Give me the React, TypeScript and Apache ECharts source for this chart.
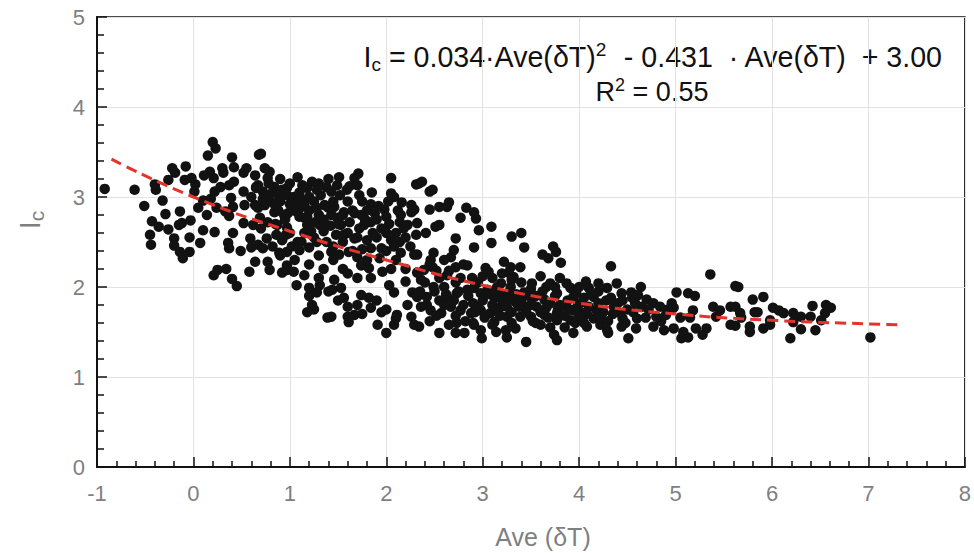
import React, { useEffect, useRef } from "react";
import * as echarts from "echarts";

// ---- data ----
const xTickLabels = ["-1", "0", "1", "2", "3", "4", "5", "6", "7", "8"];
const yTickLabels = ["0", "1", "2", "3", "4", "5"];

const leftGroup: [number, number][] = [
  [-0.92, 3.09], [-0.61, 3.08], [-0.51, 2.9], [-0.43, 2.73], [-0.45, 2.58], [-0.44, 2.47], [-0.36, 2.67],
  [-0.4, 3.14], [-0.39, 3.08], [-0.32, 2.96], [-0.29, 2.81], [-0.26, 3.19], [-0.22, 3.32], [-0.19, 3.27],
  [-0.08, 3.34], [-0.09, 3.19], [-0.02, 3.21], [0.02, 3.14], [0.01, 3.06], [-0.14, 2.84], [-0.26, 2.64],
  [-0.2, 2.54], [-0.2, 2.46], [-0.15, 2.69], [-0.12, 2.71], [-0.14, 2.39], [-0.11, 2.32], [-0.04, 2.39],
  [-0.04, 2.55], [-0.03, 2.74], [0.05, 2.88], [0.07, 2.49], [0.1, 2.63], [0.14, 2.8], [0.1, 2.96],
  [0.18, 2.98], [0.22, 2.61], [0.21, 2.13], [0.25, 2.19], [0.34, 2.2], [0.4, 2.09], [0.45, 2.01],
  [0.2, 3.61], [0.23, 3.54], [0.15, 3.46], [0.11, 3.24], [0.17, 3.28], [0.21, 3.21], [0.22, 3.06],
  [0.28, 3.11], [0.3, 3.32], [0.31, 3.27], [0.4, 3.44], [0.42, 3.33], [0.37, 3.13], [0.42, 3.17],
  [0.39, 2.99], [0.41, 2.89], [0.33, 2.84], [0.37, 2.79], [0.24, 2.88], [0.36, 2.49], [0.37, 2.43],
  [0.41, 2.6], [0.49, 2.4], [0.52, 3.27], [0.55, 3.32], [0.52, 3.06], [0.53, 2.91], [0.52, 2.71],
  [0.59, 2.54], [0.6, 2.44], [0.58, 2.17], [0.64, 2.28], [0.68, 3.47], [0.64, 3.24], [0.65, 3.11],
  [0.64, 2.91], [0.62, 2.69],
];

const upperBand: [number, number][] = [
  [0.7, 3.48], [0.74, 3.32], [0.79, 3.28], [0.77, 3.21], [0.67, 3.13], [0.72, 3.06], [0.84, 3.11],
  [0.92, 3.08], [0.97, 3.1], [1.08, 3.22], [1.13, 3.13], [1.23, 3.17], [1.18, 3.1], [0.89, 3.0],
  [0.97, 3.02], [1.04, 3.0], [1.12, 2.97], [1.2, 3.0], [1.32, 3.02], [1.38, 3.11], [1.43, 3.06],
  [1.51, 3.22], [1.49, 3.13], [1.59, 3.08], [1.67, 3.21], [1.71, 3.26], [1.7, 3.13], [1.72, 3.02],
  [1.84, 2.92], [1.88, 2.82], [1.98, 2.86], [2.05, 3.21], [2.05, 3.04], [2.08, 3.0], [2.16, 2.94],
  [2.26, 2.91], [2.31, 3.14], [2.26, 2.83], [2.15, 2.8], [2.14, 2.72], [2.03, 2.7], [2.0, 2.6],
  [2.05, 2.52], [2.14, 2.5], [2.15, 2.38], [2.29, 2.36], [2.31, 2.58], [2.22, 2.69], [1.84, 2.72],
  [1.77, 2.69], [1.86, 2.6], [1.8, 2.52], [1.84, 2.43], [1.95, 2.43], [1.93, 2.32], [1.67, 2.54],
  [1.56, 2.58], [1.53, 2.69], [1.49, 2.77], [1.43, 2.8], [1.38, 2.69], [1.31, 2.69], [1.26, 2.72],
  [1.36, 2.91], [1.46, 2.89], [1.56, 2.83], [1.67, 2.82], [1.74, 2.8], [1.18, 2.69], [1.15, 2.77],
  [1.08, 2.83], [1.12, 2.89], [1.02, 2.88], [0.94, 2.8], [0.84, 2.83], [0.74, 2.91], [0.67, 2.88],
  [0.69, 2.77], [0.77, 2.72], [0.87, 2.69], [0.97, 2.66], [0.96, 2.58], [0.86, 2.58], [0.76, 2.54],
  [0.67, 2.47], [0.72, 2.43], [0.89, 2.38], [0.97, 2.39], [1.08, 2.5], [1.1, 2.41], [1.2, 2.44],
  [1.28, 2.5], [1.38, 2.5], [1.43, 2.39], [1.51, 2.36], [1.61, 2.39], [1.7, 2.33], [1.74, 2.24],
  [1.82, 2.21], [1.84, 2.1], [1.96, 2.17], [2.03, 2.02], [2.08, 1.94], [2.2, 2.06], [2.27, 1.94],
  [2.22, 1.8], [2.26, 1.67], [2.29, 1.58], [2.11, 1.69], [2.08, 1.58], [2.0, 1.49], [1.91, 1.58],
  [1.95, 1.72], [1.84, 1.77], [1.82, 1.88], [1.74, 1.91], [1.7, 1.8], [1.67, 1.69], [1.6, 1.67],
  [1.61, 1.61], [1.56, 1.88], [1.53, 1.99], [1.46, 2.08], [1.44, 1.97], [1.43, 1.67], [1.39, 1.66],
  [1.31, 2.02], [1.28, 1.94], [1.23, 1.8], [1.18, 1.72], [1.2, 1.99], [1.15, 2.13], [1.07, 2.02],
  [1.04, 2.17], [0.97, 2.24], [0.92, 2.16], [0.79, 2.19], [0.77, 2.28], [0.97, 2.19],
];

const middleBand: [number, number][] = [
  [2.34, 3.15], [2.37, 3.17], [2.45, 3.06], [2.48, 3.08], [2.29, 2.86], [2.45, 2.86], [2.55, 2.89],
  [2.63, 2.89], [2.65, 2.94], [2.77, 2.77], [2.83, 2.88], [2.91, 2.83], [2.93, 2.76], [2.96, 2.63],
  [3.09, 2.67], [3.09, 2.49], [2.91, 2.44], [2.72, 2.54], [2.32, 2.71], [2.41, 2.6], [2.51, 2.67],
  [2.55, 2.69], [3.3, 2.56], [3.4, 2.6], [3.43, 2.44], [3.68, 2.32], [3.76, 2.39], [3.81, 2.27],
  [2.49, 2.38], [2.46, 2.3], [2.67, 2.33], [2.7, 2.41], [2.72, 2.22], [2.84, 2.24], [2.32, 2.36],
  [2.39, 2.19], [2.48, 2.22], [2.63, 2.13], [2.77, 2.1], [2.89, 2.1], [3.03, 2.21], [3.06, 2.17],
  [3.22, 2.28], [3.29, 2.22], [3.39, 2.22], [3.27, 2.16], [3.32, 2.11], [3.19, 2.04], [3.15, 2.0],
  [3.29, 2.0], [3.51, 2.04], [3.66, 2.0], [3.7, 2.04], [3.87, 2.04], [3.91, 1.99], [3.43, 1.94],
  [3.53, 1.89], [3.64, 1.86], [3.77, 1.93], [3.94, 1.89], [2.32, 2.16], [2.36, 2.08], [2.32, 1.89],
  [2.42, 1.89], [2.49, 2.0], [2.6, 2.0], [2.63, 1.89], [2.73, 1.93], [2.84, 1.97], [2.91, 1.99],
  [2.98, 1.93], [3.05, 1.97], [3.12, 1.88], [3.2, 1.91], [3.29, 1.86], [3.35, 1.82], [3.45, 1.78],
  [3.56, 1.78], [3.66, 1.77], [3.77, 1.71], [3.87, 1.78], [3.94, 1.74], [2.36, 1.78], [2.46, 1.74],
  [2.57, 1.71], [2.67, 1.78], [2.77, 1.74], [2.88, 1.71], [2.98, 1.74], [3.08, 1.71], [3.19, 1.78],
  [3.25, 1.67], [3.39, 1.67], [3.5, 1.67], [3.64, 1.69], [3.77, 1.63], [3.91, 1.63], [2.34, 1.56],
  [2.55, 1.49], [2.72, 1.49], [2.81, 1.49], [2.99, 1.43], [2.98, 1.52], [3.14, 1.5], [3.24, 1.52],
  [3.25, 1.44], [3.34, 1.54], [3.45, 1.39], [3.74, 1.47], [3.77, 1.41], [3.94, 1.49], [2.73, 1.6],
  [2.91, 1.58], [3.12, 1.61], [3.6, 1.58], [3.73, 2.45], [3.62, 2.36],
];

const lowerTail: [number, number][] = [
  [4.33, 2.23], [4.07, 2.06], [4.2, 2.04], [4.39, 2.04], [4.29, 1.99], [4.1, 1.99], [3.97, 1.93],
  [4.64, 2.0], [4.44, 1.93], [4.54, 1.94], [4.61, 1.91], [5.01, 1.94], [5.13, 1.93], [5.2, 1.9],
  [5.36, 2.14], [5.62, 2.01], [4.15, 1.89], [4.33, 1.88], [4.7, 1.86], [4.77, 1.82], [4.84, 1.78],
  [4.96, 1.82], [4.98, 1.77], [5.18, 1.74], [5.39, 1.78], [5.46, 1.74], [5.57, 1.78], [4.01, 1.82],
  [4.05, 1.71], [4.18, 1.74], [4.36, 1.78], [4.43, 1.71], [4.56, 1.72], [4.69, 1.66], [4.8, 1.67],
  [4.9, 1.69], [5.05, 1.66], [5.15, 1.66], [5.42, 1.67], [3.96, 1.6], [4.08, 1.56], [4.22, 1.58],
  [4.29, 1.52], [4.44, 1.56], [4.59, 1.54], [4.77, 1.56], [4.88, 1.52], [4.98, 1.54], [5.08, 1.5],
  [5.13, 1.44], [5.21, 1.54], [5.28, 1.47], [5.32, 1.54], [5.57, 1.58], [4.3, 1.49], [4.51, 1.43],
  [5.06, 1.43], [5.65, 2.0], [5.8, 1.86], [5.91, 1.89], [5.62, 1.78], [5.67, 1.71], [5.68, 1.66],
  [5.62, 1.57], [5.77, 1.56], [5.77, 1.5], [5.82, 1.72], [5.85, 1.72], [5.91, 1.54], [5.98, 1.63],
  [5.98, 1.58], [6.01, 1.77], [6.07, 1.74], [6.12, 1.71], [6.22, 1.71], [6.22, 1.61], [6.3, 1.67],
  [6.3, 1.53], [6.19, 1.43], [6.4, 1.67], [6.42, 1.79], [6.45, 1.52], [6.51, 1.63], [6.56, 1.8],
  [6.61, 1.77], [6.55, 1.71], [7.02, 1.44],
];

const denseCoreUpper: [number, number][] = [
  [0.75, 3.0], [0.8, 2.95], [0.85, 2.9], [0.9, 2.95], [1.0, 2.92], [1.05, 2.85], [1.1, 2.78], [1.2, 2.85],
  [1.25, 2.95], [1.3, 2.8], [1.35, 2.75], [1.4, 2.88], [1.45, 2.95], [0.95, 2.75], [0.85, 2.7], [0.7, 2.65],
  [1.0, 2.6], [1.15, 2.6], [1.25, 2.55], [1.35, 2.62], [1.5, 2.7], [1.55, 2.8], [1.6, 2.95], [1.65, 2.85],
  [1.75, 2.95], [1.8, 2.85], [1.9, 2.75], [1.95, 2.65], [2.0, 2.78], [1.6, 2.6], [1.7, 2.55], [1.9, 2.55],
  [2.1, 2.6], [2.2, 2.55], [2.25, 2.45], [0.6, 3.0], [0.65, 3.1], [0.78, 3.15], [0.9, 3.2], [1.0, 3.15],
  [1.3, 3.15], [1.4, 3.2], [1.1, 3.05], [0.82, 2.45], [0.9, 2.35], [1.05, 2.3], [1.2, 2.25], [1.3, 2.35],
  [1.45, 2.3], [1.55, 2.2], [1.6, 2.15], [1.7, 2.1], [1.8, 2.3], [2.05, 2.2], [2.1, 2.3], [2.2, 2.2],
  [1.3, 2.1], [1.4, 1.95], [1.5, 1.85], [1.6, 1.78], [1.75, 1.7], [1.9, 1.85], [2.0, 1.75], [2.1, 1.65],
  [1.2, 1.9], [1.25, 1.75], [0.95, 3.05], [1.15, 2.92], [1.55, 2.5], [1.65, 2.4], [2.0, 2.4], [1.35, 2.2],
  [0.72, 2.98], [0.82, 3.05], [0.88, 2.85], [0.98, 2.82], [1.08, 2.95], [1.18, 2.78], [1.28, 2.88],
  [1.42, 2.68], [1.48, 2.58], [1.62, 2.72], [1.72, 2.65], [1.78, 2.75], [1.92, 2.9], [2.02, 2.95],
  [2.12, 2.85], [1.52, 3.02], [1.62, 3.12], [1.85, 3.05], [1.28, 3.08], [0.92, 2.52], [1.02, 2.45],
  [1.12, 2.5], [1.22, 2.62], [1.45, 2.45], [1.75, 2.42], [2.08, 2.45], [2.18, 2.65],
];

const denseCoreLower: [number, number][] = [
  [2.4, 2.05], [2.5, 1.95], [2.55, 1.85], [2.6, 1.8], [2.7, 1.85], [2.75, 1.95], [2.8, 1.8], [2.85, 1.9],
  [2.9, 1.82], [2.95, 1.78], [3.0, 1.85], [3.05, 1.92], [3.1, 1.8], [3.15, 1.75], [3.2, 1.85], [3.25, 1.78],
  [3.3, 1.72], [3.35, 1.92], [3.4, 1.85], [3.45, 1.72], [3.5, 1.8], [3.55, 1.9], [3.6, 1.72], [3.7, 1.82],
  [3.75, 1.9], [3.8, 1.8], [3.85, 1.68], [3.9, 1.75], [4.0, 1.68], [4.05, 1.88], [4.1, 1.78], [4.15, 1.65],
  [4.2, 1.82], [4.25, 1.72], [4.3, 1.62], [4.4, 1.82], [4.45, 1.65], [4.5, 1.75], [4.6, 1.65], [4.65, 1.78],
  [2.45, 1.62], [2.65, 1.58], [2.9, 1.6], [3.1, 1.58], [3.3, 1.6], [3.55, 1.6], [3.7, 1.55], [3.85, 1.55],
  [4.05, 1.6], [2.35, 1.95], [2.55, 2.1], [2.65, 2.18], [2.45, 2.25], [2.6, 2.3], [2.8, 2.25], [2.95, 2.05],
  [3.1, 2.1], [3.2, 2.15], [3.4, 2.05], [3.6, 2.12], [3.8, 2.1], [4.0, 2.0], [4.2, 1.95], [4.45, 1.85],
  [4.55, 1.88], [2.42, 1.8], [2.52, 1.68], [2.62, 1.92], [2.72, 1.68], [2.82, 1.62], [2.92, 1.72],
  [3.02, 1.66], [3.12, 1.95], [3.18, 1.68], [3.28, 1.95], [3.38, 1.78], [3.48, 1.9], [3.52, 1.62],
  [3.62, 1.95], [3.68, 1.66], [3.78, 1.75], [3.88, 1.85], [3.98, 1.78], [4.08, 1.7], [4.12, 1.92],
  [4.22, 1.66], [4.28, 1.85], [4.35, 1.7], [4.48, 1.6], [4.58, 1.82], [4.72, 1.75], [4.85, 1.62],
  [4.92, 1.75], [2.52, 2.18], [2.72, 2.05], [3.0, 2.12], [3.3, 2.08], [3.5, 1.98], [3.75, 2.0],
];

// fitted curve
const fitX = [-0.85, 0, 1, 2, 3, 4, 5, 6, 7, 7.3];
const fitY = [3.42, 3.0, 2.62, 2.3, 2.02, 1.82, 1.7, 1.63, 1.59, 1.58];

const FONT = "'Liberation Sans', Arial, sans-serif";
const GRAY = "#7f7f7f";

export default function App() {
  const ref = useRef<HTMLDivElement>(null);
  useEffect(() => {
    if (!ref.current) return;
    const chart = echarts.init(ref.current, undefined, { renderer: "svg" });
    const points = [
      ...leftGroup, ...upperBand, ...middleBand, ...lowerTail, ...denseCoreUpper, ...denseCoreLower,
    ];
    const fit = fitX.map((x, i) => [x, fitY[i]]);
    chart.setOption({
      animation: false,
      backgroundColor: "#ffffff",
      grid: {
        left: 97, right: 7, top: 17, bottom: 86,
        show: true, borderColor: "#111", borderWidth: 1.5,
      },
      xAxis: {
        type: "value", min: -1, max: 8, interval: 1,
        axisLine: { onZero: false, lineStyle: { color: "#111", width: 2 } },
        axisTick: { inside: true, length: 10, lineStyle: { color: "#111", width: 1.5 } },
        minorTick: { show: true, splitNumber: 5, length: 6, lineStyle: { color: "#111", width: 1.5 } },
        splitLine: { show: true, lineStyle: { color: "#e2e2e2", width: 1 } },
        axisLabel: {
          color: GRAY, fontSize: 22, fontFamily: FONT, margin: 15,
          formatter: (v: number) => xTickLabels[Math.round(v) + 1] ?? String(v),
        },
      },
      yAxis: {
        type: "value", min: 0, max: 5, interval: 1,
        axisLine: { onZero: false, lineStyle: { color: "#111", width: 2 } },
        axisTick: { inside: true, length: 10, lineStyle: { color: "#111", width: 1.5 } },
        minorTick: { show: true, splitNumber: 5, length: 7, lineStyle: { color: "#111", width: 1.5 } },
        splitLine: { show: true, lineStyle: { color: "#e2e2e2", width: 1 } },
        axisLabel: {
          color: GRAY, fontSize: 22, fontFamily: FONT, margin: 12,
          formatter: (v: number) => yTickLabels[Math.round(v)] ?? String(v),
        },
      },
      graphic: [
        {
          type: "text", x: 942, y: 57,
          style: {
            text: "{m|I}{s|c}{m| = 0.034·Ave(δT)}{p|2}{m|  - 0.431  · Ave(δT)  + 3.00}",
            align: "right", verticalAlign: "middle",
            rich: {
              m: { fontSize: 28.6, fontFamily: FONT, fill: "#111", lineHeight: 34 },
              s: { fontSize: 19, fontFamily: FONT, fill: "#111", lineHeight: 18, verticalAlign: "bottom" },
              p: { fontSize: 19, fontFamily: FONT, fill: "#111", lineHeight: 18, verticalAlign: "top" },
            },
          },
        },
        {
          type: "text", x: 652, y: 92,
          style: {
            text: "{m|R}{p|2}{m| = 0.55}",
            align: "center", verticalAlign: "middle",
            rich: {
              m: { fontSize: 27, fontFamily: FONT, fill: "#111", lineHeight: 32 },
              p: { fontSize: 18, fontFamily: FONT, fill: "#111", lineHeight: 17, verticalAlign: "top" },
            },
          },
        },
        {
          type: "text", x: 30, y: 220, rotation: Math.PI / 2,
          style: {
            text: "{m|I}{s|c}",
            align: "center", verticalAlign: "middle",
            rich: {
              m: { fontSize: 29, fontFamily: FONT, fill: GRAY, lineHeight: 34 },
              s: { fontSize: 21, fontFamily: FONT, fill: GRAY, lineHeight: 19, verticalAlign: "bottom" },
            },
          },
        },
        {
          type: "text", x: 543, y: 537,
          style: {
            text: "Ave (δT)", align: "center", verticalAlign: "middle",
            fontSize: 25, fontFamily: FONT, fill: GRAY,
          },
        },
      ],
      series: [
        {
          type: "scatter", data: points, symbolSize: 10.5,
          itemStyle: { color: "#121212", opacity: 1 }, z: 2,
        },
        {
          type: "line", data: fit, smooth: true, showSymbol: false, symbol: "none",
          lineStyle: { color: "#e3342b", width: 3, type: [11, 6] }, z: 3,
        },
      ],
    });
    return () => chart.dispose();
  }, []);
  return (
    <div
      ref={ref}
      style={{ position: "fixed", left: 0, top: 0, width: 974, height: 553 }}
    />
  );
}
